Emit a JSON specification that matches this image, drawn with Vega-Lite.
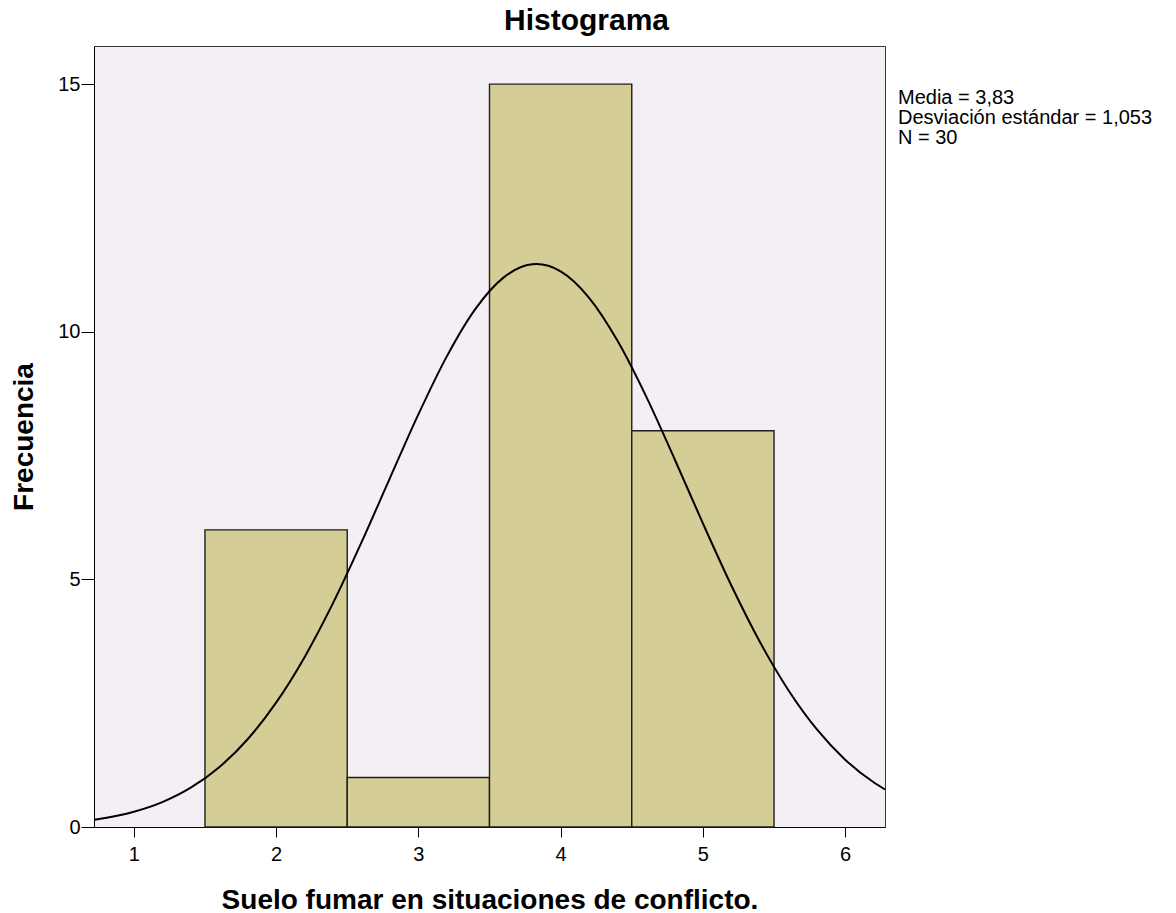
{
  "$schema": "https://vega.github.io/schema/vega-lite/v6.json",
  "autosize": {"type": "none"},
  "padding": {"left": 94, "top": 46, "right": 291, "bottom": 86},
  "width": 791,
  "height": 781,
  "background": "white",
  "view": {"fill": "#f4eff4", "stroke": "#3a3a3a", "strokeWidth": 1},
  "title": {
    "text": "Histograma",
    "font": "Liberation Sans",
    "fontSize": 30,
    "fontWeight": "bold",
    "color": "black",
    "anchor": "middle",
    "dx": 97,
    "offset": 10
  },
  "config": {
    "view": {"fill": "#f4eff4", "stroke": "#3a3a3a", "strokeWidth": 1},
    "axis": {
      "grid": false,
      "domainColor": "black",
      "tickColor": "black",
      "labelColor": "black",
      "titleColor": "black",
      "labelFont": "Liberation Sans",
      "titleFont": "Liberation Sans",
      "labelFontSize": 20,
      "titleFontSize": 28,
      "titleFontWeight": "bold"
    }
  },
  "datasets": {
    "bins": [
      {"bin_start": 1.5, "bin_end": 2.5, "count": 6},
      {"bin_start": 2.5, "bin_end": 3.5, "count": 1},
      {"bin_start": 3.5, "bin_end": 4.5, "count": 15},
      {"bin_start": 4.5, "bin_end": 5.5, "count": 8}
    ],
    "curve": [
      {"x": 0.72, "y": 0.145},
      {"x": 0.8, "y": 0.181},
      {"x": 1.0, "y": 0.307},
      {"x": 1.2, "y": 0.502},
      {"x": 1.4, "y": 0.793},
      {"x": 1.6, "y": 1.207},
      {"x": 1.8, "y": 1.772},
      {"x": 2.0, "y": 2.511},
      {"x": 2.2, "y": 3.430},
      {"x": 2.4, "y": 4.520},
      {"x": 2.6, "y": 5.746},
      {"x": 2.8, "y": 7.044},
      {"x": 3.0, "y": 8.331},
      {"x": 3.2, "y": 9.503},
      {"x": 3.4, "y": 10.457},
      {"x": 3.6, "y": 11.098},
      {"x": 3.8, "y": 11.361},
      {"x": 3.83, "y": 11.366},
      {"x": 4.0, "y": 11.219},
      {"x": 4.2, "y": 10.686},
      {"x": 4.4, "y": 9.817},
      {"x": 4.6, "y": 8.700},
      {"x": 4.8, "y": 7.436},
      {"x": 5.0, "y": 6.131},
      {"x": 5.2, "y": 4.876},
      {"x": 5.4, "y": 3.740},
      {"x": 5.6, "y": 2.767},
      {"x": 5.8, "y": 1.975},
      {"x": 6.0, "y": 1.359},
      {"x": 6.2, "y": 0.903},
      {"x": 6.28, "y": 0.759}
    ],
    "stats": [
      {"stat": "Media = 3,83"},
      {"stat": "Desviación estándar = 1,053"},
      {"stat": "N = 30"}
    ]
  },
  "layer": [
    {
      "data": {"name": "bins"},
      "mark": {"type": "rect", "fill": "#d4cd96", "stroke": "#1e1e1e", "strokeWidth": 1.4},
      "encoding": {
        "x": {
          "field": "bin_start",
          "type": "quantitative",
          "scale": {"domain": [0.72, 6.28], "nice": false, "zero": false},
          "axis": {
            "values": [1, 2, 3, 4, 5, 6],
            "format": "d",
            "tickSize": 10,
            "labelPadding": 7,
            "title": "Suelo fumar en situaciones de conflicto.",
            "titlePadding": 22
          }
        },
        "x2": {"field": "bin_end"},
        "y": {
          "field": "count",
          "type": "quantitative",
          "scale": {"domain": [0, 15.77], "nice": false},
          "axis": {
            "values": [0, 5, 10, 15],
            "format": "d",
            "tickSize": 13,
            "labelPadding": 1,
            "title": "Frecuencia",
            "titlePadding": 19
          }
        },
        "y2": {"datum": 0}
      }
    },
    {
      "data": {"name": "curve"},
      "mark": {"type": "line", "color": "black", "strokeWidth": 2, "interpolate": "monotone"},
      "encoding": {
        "x": {"field": "x", "type": "quantitative"},
        "y": {"field": "y", "type": "quantitative"}
      }
    },
    {
      "data": {"name": "stats"},
      "mark": {"type": "point", "opacity": 0},
      "encoding": {
        "color": {
          "field": "stat",
          "type": "nominal",
          "scale": {
            "domain": ["Media = 3,83", "Desviación estándar = 1,053", "N = 30"],
            "range": ["black", "black", "black"]
          },
          "legend": {
            "title": null,
            "orient": "none",
            "legendX": 784,
            "legendY": 42,
            "symbolSize": 0,
            "symbolOpacity": 0,
            "symbolStrokeWidth": 0,
            "labelOffset": 0,
            "labelFont": "Liberation Sans",
            "labelFontSize": 20,
            "labelColor": "black",
            "labelLimit": 0,
            "rowPadding": -3,
            "padding": 0
          }
        }
      }
    }
  ]
}
